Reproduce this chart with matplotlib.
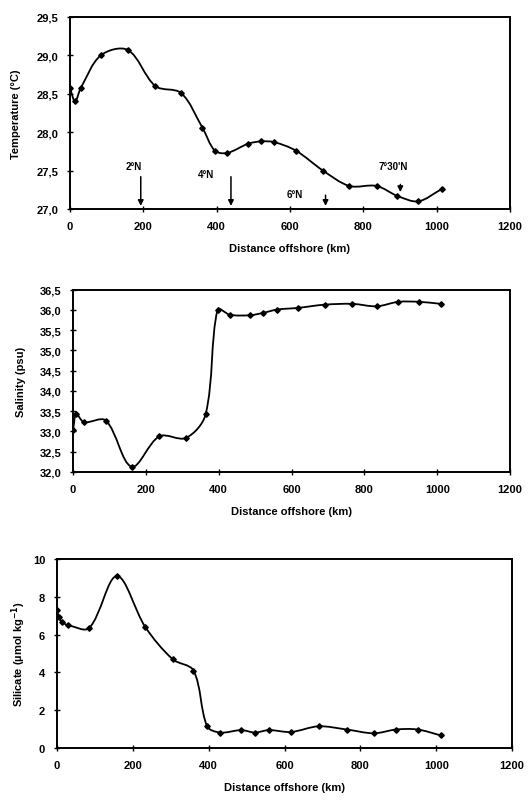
import matplotlib
matplotlib.use("Agg")
import matplotlib.pyplot as plt
import numpy as np
from matplotlib.path import Path
from matplotlib.patches import PathPatch
from matplotlib.ticker import FuncFormatter

plt.rcParams['font.family'] = ['Liberation Sans', 'DejaVu Sans']
plt.rcParams['font.weight'] = 'bold'
plt.rcParams['font.size'] = 8

# temperature section
dist_t = [0, 14, 29, 84, 158, 233, 303, 361, 395, 429, 486, 521, 557, 616, 690, 762, 836, 893, 950, 1014]
temp = [28.57, 28.40, 28.57, 29.00, 29.07, 28.60, 28.51, 28.06, 27.76, 27.73,
        27.85, 27.88, 27.87, 27.76, 27.50, 27.30, 27.30, 27.17, 27.10, 27.26]

# salinity section
dist_s = [0, 9, 30, 90, 161, 237, 310, 364, 397, 431, 487, 523, 561, 617, 691, 767, 834, 893, 951, 1010]
sal = [33.03, 33.43, 33.23, 33.27, 32.13, 32.88, 32.84, 33.42, 36.01, 35.88,
       35.87, 35.93, 36.01, 36.05, 36.13, 36.15, 36.09, 36.20, 36.20, 36.15]

# silicate section
dist_si = [0, 5, 14, 30, 85, 158, 233, 305, 360, 396, 431, 486, 522, 559, 617, 690, 764, 836, 894, 951, 1012]
sil = [7.30, 6.95, 6.65, 6.50, 6.35, 9.10, 6.40, 4.70, 4.10, 1.15, 0.82, 0.95, 0.82, 0.95,
       0.85, 1.15, 0.98, 0.78, 0.98, 0.98, 0.67]

# latitude markers on the temperature panel
lat_labels = ['2°N', '4°N', '6°N', "7°30'N"]
lat_dist = [193, 439, 697, 901]


def smooth_line(ax, x, y):
    # smoothed line like the spreadsheet one: bezier segments, tangents
    # weighted by the on-screen length of the neighbouring segments
    pts = np.column_stack([x, y]).astype(float)
    pix = ax.transData.transform(pts)
    n = len(pts)
    seg = np.hypot(*np.diff(pix, axis=0).T)
    tang = np.zeros_like(pts)
    w_in = np.zeros(n)
    w_out = np.zeros(n)
    for i in range(n):
        a = pts[i - 1] if i > 0 else pts[i]
        b = pts[i + 1] if i < n - 1 else pts[i]
        tang[i] = b - a
        dp = seg[i - 1] if i > 0 else 0.0
        dn = seg[i] if i < n - 1 else 0.0
        tot = dp + dn if dp + dn > 0 else 1.0
        w_in[i] = dp / tot
        w_out[i] = dn / tot
    verts = [pts[0]]
    codes = [Path.MOVETO]
    for i in range(n - 1):
        c1 = pts[i] + tang[i] * w_out[i] / 3
        c2 = pts[i + 1] - tang[i + 1] * w_in[i + 1] / 3
        verts += [c1, c2, pts[i + 1]]
        codes += [Path.CURVE4] * 3
    ax.add_patch(PathPatch(Path(verts, codes), fill=False, lw=1.3, color='black'))
    ax.plot(x, y, 'D', ms=2.8, color='black')


def style(ax):
    for s in ax.spines.values():
        s.set_linewidth(1.4)
    ax.tick_params(direction='inout', length=5, width=1, labelsize=8, pad=6)
    ax.set_xlim(0, 1200)
    ax.set_xticks(range(0, 1201, 200))
    ax.set_xlabel('Distance offshore (km)', fontsize=8, fontweight='bold', labelpad=9)


comma = FuncFormatter(lambda v, p: f'{v:.1f}'.replace('.', ','))

fig = plt.figure(figsize=(5.31, 8.03), dpi=100)

ax1 = fig.add_axes([0.1318, 0.7385, 0.8286, 0.2391])
style(ax1)
ax1.set_ylim(27.0, 29.5)
smooth_line(ax1, dist_t, temp)
ax1.set_yticks(np.arange(27.0, 29.51, 0.5))
ax1.yaxis.set_major_formatter(comma)
ax1.set_ylabel('Temperature (°C)', fontsize=8, fontweight='bold')
ax1.yaxis.set_label_coords(-0.112, 0.5)

arrow_top = [27.42, 27.42, 27.18, 27.32]
arrow_bot = [27.04, 27.04, 27.04, 27.22]
label_pos = [(175, 27.56), (372, 27.45), (612, 27.19), (882, 27.56)]
for lab, d, yt, yb, pos in zip(lat_labels, lat_dist, arrow_top, arrow_bot, label_pos):
    ax1.annotate('', xy=(d, yb), xytext=(d, yt),
                 arrowprops=dict(arrowstyle='-|>', color='black', lw=1.1,
                                 mutation_scale=8, shrinkA=0, shrinkB=0))
    ax1.text(pos[0], pos[1], lab, ha='center', va='center', fontsize=7, fontweight='bold')

ax2 = fig.add_axes([0.1375, 0.4110, 0.823, 0.227])
style(ax2)
ax2.set_ylim(32.0, 36.5)
smooth_line(ax2, dist_s, sal)
ax2.set_yticks(np.arange(32.0, 36.51, 0.5))
ax2.yaxis.set_major_formatter(comma)
ax2.set_ylabel('Salinity (psu)', fontsize=8, fontweight='bold')
ax2.yaxis.set_label_coords(-0.108, 0.5)

ax3 = fig.add_axes([0.1073, 0.0672, 0.857, 0.2354])
style(ax3)
ax3.set_ylim(0, 10)
smooth_line(ax3, dist_si, sil)
ax3.set_yticks(range(0, 11, 2))
ax3.set_ylabel('Silicate (µmol kg$^{-1}$)', fontsize=8, fontweight='bold')
ax3.yaxis.set_label_coords(-0.064, 0.5)

fig.savefig('out.png', dpi=100)
